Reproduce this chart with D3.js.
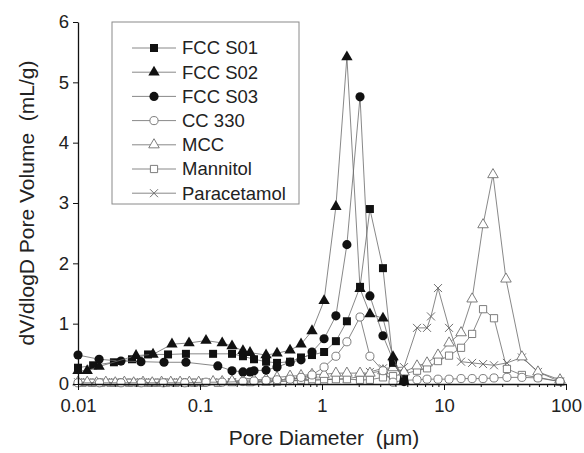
<!DOCTYPE html>
<html>
<head>
<meta charset="utf-8">
<script src="https://cdn.jsdelivr.net/npm/d3@7"></script>
<style>
  html, body { margin: 0; padding: 0; background: #fff; }
  svg { display: block; font-family: "Liberation Sans", Arial, sans-serif; }
  .title { white-space: pre; }
</style>
</head>
<body>
<svg id="chart" width="584" height="453"></svg>
<script>
// Pore size distributions: [pore diameter (µm), dV/dlogD (mL/g)]
const fccS01 = [[0.0100,0.27],[0.0133,0.31],[0.0197,0.36],[0.0277,0.41],[0.0375,0.49],[0.0547,0.49],[0.0767,0.50],[0.128,0.50],[0.183,0.50],[0.225,0.46],[0.277,0.41],[0.348,0.37],[0.428,0.35],[0.547,0.37],[0.673,0.44],[0.828,0.48],[1.04,0.53],[1.30,0.71],[1.60,1.04],[2.05,1.61],[2.47,2.90],[3.16,1.92],[3.82,0.35],[4.70,0.08]];
const fccS02 = [[0.0100,0.22],[0.0119,0.22],[0.0149,0.29],[0.0299,0.47],[0.0412,0.49],[0.0589,0.66],[0.0813,0.68],[0.112,0.72],[0.152,0.68],[0.183,0.63],[0.225,0.55],[0.257,0.52],[0.348,0.48],[0.428,0.51],[0.547,0.56],[0.673,0.66],[0.828,0.88],[1.04,1.38],[1.30,2.94],[1.60,5.42],[2.05,1.58],[2.47,1.16],[3.16,1.09],[3.82,0.45],[4.70,0.05]];
const fccS03 = [[0.0100,0.48],[0.0149,0.41],[0.0225,0.38],[0.0328,0.37],[0.0507,0.36],[0.0767,0.36],[0.140,0.30],[0.183,0.22],[0.225,0.20],[0.257,0.20],[0.277,0.22],[0.348,0.23],[0.428,0.28],[0.547,0.36],[0.673,0.40],[0.828,0.53],[1.04,0.75],[1.30,1.13],[1.60,2.31],[2.05,4.76],[2.47,1.46],[3.16,0.80],[3.82,0.40],[4.70,0.04]];
const cc330 = [[0.0100,0.02],[0.0150,0.02],[0.0225,0.02],[0.0330,0.02],[0.0500,0.02],[0.0750,0.02],[0.112,0.03],[0.152,0.03],[0.225,0.04],[0.277,0.05],[0.348,0.06],[0.428,0.07],[0.547,0.08],[0.673,0.11],[0.828,0.15],[1.04,0.28],[1.30,0.46],[1.60,0.70],[2.05,1.11],[2.47,0.46],[3.16,0.22],[3.82,0.03],[4.70,0.06],[6.01,0.07],[7.26,0.08],[8.93,0.08],[11.0,0.08],[13.8,0.09],[17.0,0.09],[20.9,0.09],[25.7,0.10],[32.8,0.11],[43.5,0.11],[58.9,0.10],[89.3,0.04]];
const mcc = [[0.0100,0.03],[0.0119,0.03],[0.0142,0.02],[0.0169,0.03],[0.0202,0.02],[0.0240,0.03],[0.0286,0.02],[0.0341,0.03],[0.0406,0.02],[0.0484,0.03],[0.0576,0.03],[0.0687,0.03],[0.0818,0.03],[0.0975,0.03],[0.128,0.04],[0.152,0.04],[0.183,0.05],[0.225,0.06],[0.277,0.07],[0.348,0.08],[0.428,0.11],[0.547,0.13],[0.673,0.14],[0.828,0.16],[1.04,0.16],[1.30,0.18],[1.60,0.18],[2.05,0.18],[2.47,0.18],[3.16,0.22],[3.82,0.27],[4.70,0.20],[6.01,0.30],[7.26,0.35],[8.93,0.48],[11.0,0.68],[13.8,0.85],[17.0,1.41],[20.9,2.64],[25.2,3.47],[32.2,1.74],[43.5,0.45],[58.9,0.20],[89.3,0.07]];
const mannitol = [[0.0109,0.02],[0.0130,0.02],[0.0155,0.02],[0.0185,0.02],[0.0220,0.02],[0.0262,0.02],[0.0312,0.02],[0.0372,0.02],[0.0443,0.02],[0.0528,0.02],[0.0629,0.02],[0.0750,0.02],[0.0893,0.02],[0.106,0.02],[0.140,0.02],[0.183,0.03],[0.257,0.03],[0.348,0.04],[0.428,0.04],[0.547,0.05],[0.673,0.07],[0.828,0.08],[1.04,0.08],[1.30,0.08],[1.60,0.08],[2.05,0.07],[2.47,0.07],[3.16,0.11],[3.82,0.13],[4.70,0.17],[6.01,0.22],[7.26,0.26],[8.93,0.38],[11.0,0.47],[13.8,0.60],[17.0,0.83],[20.9,1.24],[25.7,1.09],[32.8,0.25],[43.5,0.15],[58.9,0.11],[89.3,0.04]];
const paracetamol = [[0.0100,0.03],[0.0109,0.03],[0.0119,0.03],[0.0130,0.03],[0.0142,0.03],[0.0155,0.03],[0.0169,0.03],[0.0185,0.03],[0.0202,0.03],[0.0220,0.03],[0.0240,0.03],[0.0262,0.03],[0.0286,0.03],[0.0312,0.03],[0.0341,0.03],[0.0372,0.03],[0.0406,0.03],[0.0443,0.03],[0.0484,0.03],[0.0528,0.03],[0.0576,0.03],[0.0629,0.03],[0.0687,0.03],[0.0750,0.03],[0.0818,0.03],[0.0893,0.03],[0.0975,0.03],[0.106,0.03],[0.128,0.03],[0.183,0.03],[0.257,0.04],[0.348,0.04],[0.428,0.05],[0.547,0.05],[0.673,0.06],[0.828,0.06],[1.04,0.07],[1.30,0.08],[1.60,0.09],[2.05,0.12],[2.47,0.20],[3.16,0.26],[4.70,0.28],[6.01,0.93],[7.26,0.93],[7.82,1.12],[8.93,1.59],[11.0,0.93],[13.8,0.37],[17.0,0.35],[20.9,0.33],[25.7,0.31],[32.8,0.35],[43.5,0.44],[58.9,0.20],[89.3,0.04]];

const seriesNames = ["FCC S01", "FCC S02", "FCC S03", "CC 330", "MCC", "Mannitol", "Paracetamol"];
const xMajorTicks = [0.01, 0.1, 1, 10, 100];
const xTickLabels = ["0.01", "0.1", "1", "10", "100"];
const yTicks = [0, 1, 2, 3, 4, 5, 6];
const xTitle = "Pore Diameter  (\u03bcm)";
const yTitle = "dV/dlogD Pore Volume  (mL/g)";

const svg = d3.select("#chart");
const x = d3.scaleLog().domain([0.01, 100]).range([78, 566]);
const y = d3.scaleLinear().domain([0, 6]).range([384, 22]);

const lineColor = "#6a6a6a";
const openColor = "#6f6f6f";

// marker styles per series
const styles = [
  {data: fccS01, shape: "square", filled: true},
  {data: fccS02, shape: "triangle", filled: true},
  {data: fccS03, shape: "circle", filled: true},
  {data: cc330, shape: "circle", filled: false},
  {data: mcc, shape: "triangle", filled: false},
  {data: mannitol, shape: "square", filled: false},
  {data: paracetamol, shape: "cross", filled: false}
];

function markerPath(shape, filled) {
  if (shape === "square") return d3.symbol(d3.symbolSquare, filled ? 64 : 52)();
  if (shape === "triangle") return d3.symbol(d3.symbolTriangle, filled ? 56 : 48)();
  if (shape === "circle") return d3.symbol(d3.symbolCircle, filled ? 66 : 52)();
  const r = 4;
  return `M${-r},${-r}L${r},${r}M${-r},${r}L${r},${-r}`;
}

function drawMarker(g, s, cx, cy) {
  const p = g.append("path")
    .attr("d", markerPath(s.shape, s.filled))
    .attr("transform", `translate(${cx},${cy})`);
  if (s.filled) {
    p.attr("fill", "#111").attr("stroke", "none");
  } else if (s.shape === "cross") {
    p.attr("fill", "none").attr("stroke", openColor).attr("stroke-width", 1);
  } else {
    p.attr("fill", "#fff").attr("stroke", openColor).attr("stroke-width", 0.9);
  }
}

const line = d3.line().x(d => x(d[0])).y(d => y(d[1]));

// draw open series first, filled series on top
const order = [6, 5, 4, 3, 0, 2, 1];
const plot = svg.append("g");
order.forEach(i => {
  const s = styles[i];
  const g = plot.append("g");
  g.append("path").datum(s.data)
    .attr("d", line)
    .attr("fill", "none")
    .attr("stroke", lineColor)
    .attr("stroke-width", 0.8);
  s.data.forEach(d => drawMarker(g, s, x(d[0]), y(d[1])));
});

// axes
const minorTicks = [];
[0.01, 0.1, 1, 10].forEach(b => { for (let k = 2; k <= 9; k++) minorTicks.push(b * k); });

const xAxisG = svg.append("g").attr("transform", "translate(0,384)");
xAxisG.call(d3.axisBottom(x).tickValues(xMajorTicks)
  .tickFormat((d, i) => xTickLabels[i]).tickSize(6).tickSizeOuter(0).tickPadding(9));
xAxisG.append("g").call(d3.axisBottom(x).tickValues(minorTicks).tickFormat("").tickSize(3).tickSizeOuter(0))
  .select(".domain").remove();

const yAxisG = svg.append("g").attr("transform", "translate(78,0)");
yAxisG.call(d3.axisLeft(y).tickValues(yTicks).tickFormat(d3.format("d")).tickSize(5).tickSizeOuter(0).tickPadding(4));

svg.selectAll(".domain").attr("stroke", "#111").attr("stroke-width", 1.3);
svg.selectAll(".tick line").attr("stroke", "#111").attr("stroke-width", 1);
svg.selectAll(".tick text").attr("fill", "#222").attr("font-size", 18.5)
  .attr("font-family", "'Liberation Sans', Arial, sans-serif");

// axis titles
svg.append("text").attr("class", "title").attr("x", 324).attr("y", 445).attr("text-anchor", "middle")
  .attr("font-size", 21).attr("fill", "#222").text(xTitle);
svg.append("text").attr("class", "title").attr("transform", "translate(34,203) rotate(-90)")
  .attr("text-anchor", "middle").attr("font-size", 21).attr("fill", "#222").text(yTitle);

// legend
const lg = svg.append("g");
lg.append("rect").attr("x", 112).attr("y", 22).attr("width", 187).attr("height", 182)
  .attr("fill", "#fff").attr("stroke", "#8a8a8a").attr("stroke-width", 1);
seriesNames.forEach((name, i) => {
  const cy = 48 + i * 24.2;
  lg.append("line").attr("x1", 132).attr("x2", 176).attr("y1", cy).attr("y2", cy)
    .attr("stroke", lineColor).attr("stroke-width", 0.8);
  drawMarker(lg, styles[i], 154, cy);
  lg.append("text").attr("x", 182).attr("y", cy).attr("dy", "0.35em")
    .attr("font-size", 18.5).attr("fill", "#222").text(name);
});
</script>
</body>
</html>
